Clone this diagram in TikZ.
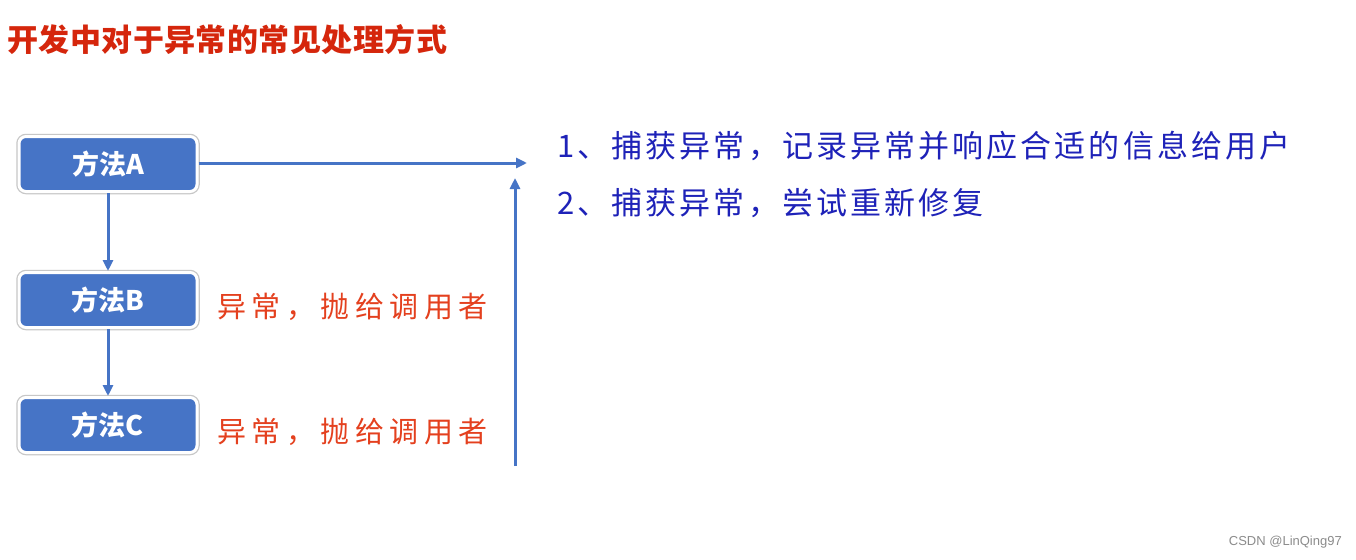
\documentclass[tikz,border=0pt]{standalone}
\usepackage{fontspec}
\newfontfamily\cjk{Noto Sans CJK SC}
\newfontfamily\cjkhand[LetterSpace=19]{Noto Sans CJK SC}
\newfontfamily\cjkblue[LetterSpace=10]{Noto Sans CJK SC}
\newfontfamily\cjktitle[LetterSpace=1.5]{Noto Sans CJK SC}
\setsansfont{Liberation Sans}
\usetikzlibrary{arrows.meta}
\definecolor{boxblue}{HTML}{4674C6}
\definecolor{titlered}{HTML}{D5260C}
\definecolor{labelred}{HTML}{E4401E}
\definecolor{textblue}{HTML}{1E22B8}
\tikzset{
  method/.style={draw=white, line width=3pt, fill=boxblue, rounded corners=7pt,
    minimum width=178pt, minimum height=55pt, inner sep=0pt, text=white,
    font=\cjk\bfseries\fontsize{27}{30}\selectfont,
    preaction={draw=black!22, line width=5.5pt}},
  conn/.style={draw=boxblue, line width=3pt, -{Triangle[length=11pt,width=10pt]}},
  redlabel/.style={anchor=west, inner sep=0pt, text=labelred, font=\cjkhand\fontsize{29}{32}\selectfont},
  bluelabel/.style={anchor=west, inner sep=0pt, text=textblue, font=\cjkblue\fontsize{31}{34}\selectfont},
}
\begin{document}
\begin{tikzpicture}[x=1pt,y=-1pt]
\useasboundingbox[fill=white] (0,0) rectangle (1356,559);
\node[anchor=west, inner sep=0pt, text=titlered, font=\cjktitle\bfseries\fontsize{31}{34}\selectfont] (title) at (7,40) {开发中对于异常的常见处理方式};
\node[method] (a) at (108,164) {方法A};
\node[method] (b) at (108,300) {方法B};
\node[method] (c) at (108,425) {方法C};
\coordinate (hend) at (527,163);
\coordinate (vstart) at (515,466);
\coordinate (vend) at (515,178);
\draw[conn] (a) -- (b);
\draw[conn] (b) -- (c);
\draw[conn] (a.east |- hend) -- (hend);
\draw[conn] (vstart) -- (vend);
\node[redlabel] (lb) at (217,307) {异常，抛给调用者};
\node[redlabel] (lc) at (217,432) {异常，抛给调用者};
\node[bluelabel] (l1) at (557,146) {1、捕获异常，记录异常并响应合适的信息给用户};
\node[bluelabel] (l2) at (557,203) {2、捕获异常，尝试重新修复};
\node[anchor=east, inner sep=0pt, text=black!45, font=\sffamily\fontsize{13}{15}\selectfont] (wm) at (1342,542) {CSDN @LinQing97};
\end{tikzpicture}
\end{document}
